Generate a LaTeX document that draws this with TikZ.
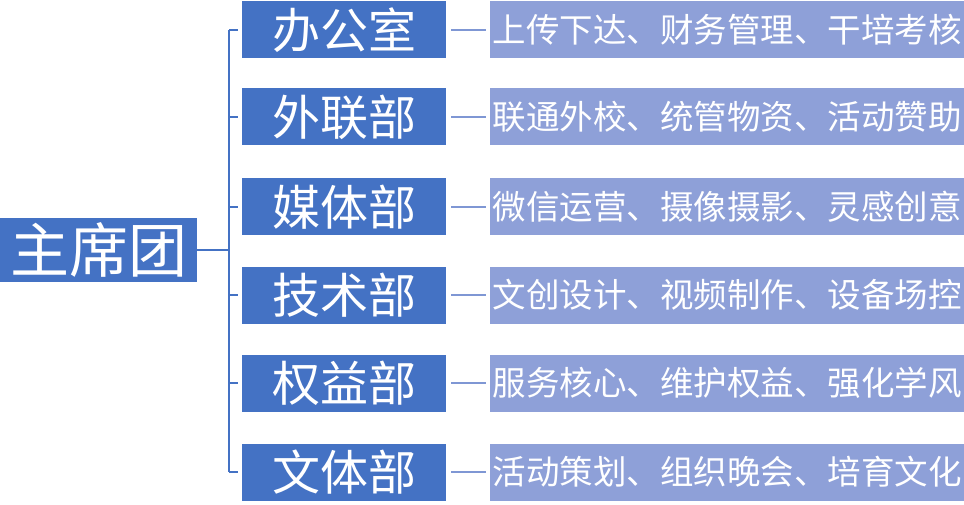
\documentclass[tikz,border=0pt]{standalone}
\usepackage{fontspec}
\setmainfont{Noto Sans CJK SC}
\usetikzlibrary{positioning}
\definecolor{darkblue}{HTML}{4472C4}
\definecolor{lightblue}{HTML}{8EA0D8}
\tikzset{
  rootbox/.style={fill=darkblue, text=white, inner sep=0pt, minimum width=197pt, minimum height=64pt, font=\fontsize{59}{59}\selectfont},
  deptbox/.style={fill=darkblue, text=white, inner sep=0pt, minimum width=204pt, minimum height=57pt, font=\fontsize{48}{48}\selectfont},
  descbox/.style={fill=lightblue, text=white, inner sep=0pt, minimum width=474pt, minimum height=57pt, font=\fontsize{33.5}{33.5}\selectfont},
  link/.style={darkblue, line width=2.5pt},
  sublink/.style={lightblue!80!darkblue, line width=2.5pt}
}
\begin{document}
\begin{tikzpicture}[x=1pt,y=-1pt]
  \useasboundingbox (0,0) rectangle (964,505);
  \node[rootbox] (root) at (98.5,250) {主席团};
  \coordinate (bar) at (229,250);
  \foreach \n/\y/\dept/\desc in {
      1/30/办公室/上传下达、财务管理、干培考核,
      2/117/外联部/联通外校、统管物资、活动赞助,
      3/207/媒体部/微信运营、摄像摄影、灵感创意,
      4/295/技术部/文创设计、视频制作、设备场控,
      5/383/权益部/服务核心、维护权益、强化学风,
      6/472/文体部/活动策划、组织晚会、培育文化} {
    \node[deptbox] (d\n) at (344,\y) {\dept};
    \node[descbox] (s\n) at (727,\y) {\desc};
    \draw[link] (229,\y) -- ([xshift=-4pt]d\n.west);
    \draw[sublink] ([xshift=5pt]d\n.east) -- ([xshift=-4pt]s\n.west);
  }
  \draw[link] (229,30) -- (229,472);
  \draw[link] (root.east) -- (bar);
\end{tikzpicture}
\end{document}
